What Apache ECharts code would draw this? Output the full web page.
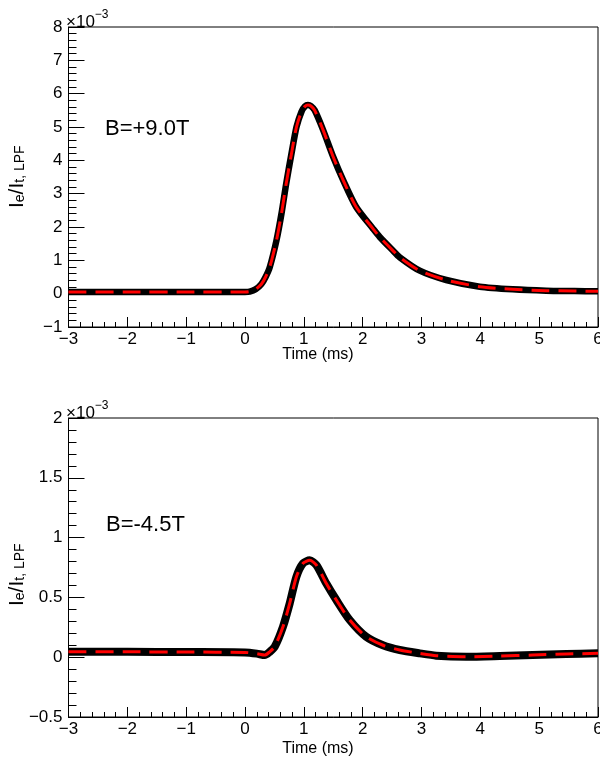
<!DOCTYPE html>
<html><head><meta charset="utf-8">
<script src="https://cdn.jsdelivr.net/npm/echarts@6/dist/echarts.min.js"></script>
<style>html,body{margin:0;padding:0;background:#fff}#c{width:600px;height:762px}</style>
</head><body><div id="c"></div>
<script>
const FONT = '"Liberation Sans", Arial, Helvetica, sans-serif';

// ---- Data (values in units of 1e-3) ----
const timeTop = [-3, -2, -1, 0, 0.08, 0.18, 0.28, 0.35, 0.42, 0.535, 0.62, 0.70, 0.79, 0.875, 0.96, 1.02, 1.07, 1.12, 1.185, 1.33, 1.5, 1.67, 1.89, 2.175, 2.29, 2.51, 2.63, 2.97, 3.42, 3.99, 4.55, 5.12, 5.6, 6];
const measTop = [0.05, 0.05, 0.05, 0.05, 0.06, 0.13, 0.29, 0.5, 0.79, 1.6, 2.4, 3.3, 4.2, 5.0, 5.46, 5.62, 5.66, 5.63, 5.5, 4.9, 4.1, 3.4, 2.6, 1.95, 1.7, 1.3, 1.09, 0.69, 0.41, 0.21, 0.13, 0.09, 0.08, 0.07];
const fitTop  = [0.05, 0.05, 0.05, 0.05, 0.06, 0.13, 0.29, 0.5, 0.79, 1.6, 2.4, 3.3, 4.2, 5.0, 5.46, 5.62, 5.66, 5.63, 5.5, 4.9, 4.1, 3.4, 2.6, 1.95, 1.7, 1.3, 1.09, 0.69, 0.41, 0.21, 0.13, 0.09, 0.08, 0.07];

const timeBottom = [-3, -2, -1, 0, 0.2, 0.336, 0.42, 0.506, 0.647, 0.76, 0.874, 0.987, 1.10, 1.214, 1.38, 1.553, 1.78, 2.06, 2.345, 2.63, 2.97, 3.25, 3.76, 4.33, 4.89, 5.46, 6];
const measBottom = [0.045, 0.045, 0.043, 0.04, 0.03, 0.018, 0.045, 0.088, 0.257, 0.45, 0.673, 0.785, 0.81, 0.77, 0.618, 0.478, 0.311, 0.171, 0.10, 0.06, 0.032, 0.013, 0.004, 0.01, 0.018, 0.027, 0.032];
const fitBottom  = [0.045, 0.045, 0.043, 0.04, 0.03, 0.018, 0.045, 0.088, 0.257, 0.45, 0.673, 0.785, 0.81, 0.77, 0.618, 0.478, 0.311, 0.171, 0.10, 0.06, 0.032, 0.013, 0.004, 0.01, 0.018, 0.027, 0.032];

const xRange = [-3, 6];
const yRangeTop = [-1, 8];
const yRangeBottom = [-0.5, 2];
const xTitle = 'Time (ms)';
const labelTop = 'B=+9.0T';
const labelBottom = 'B=-4.5T';

const pair = (t, v) => t.map((x, i) => [x, v[i]]);
const minusFmt = v => String(v).replace('-', '\u2212');

function xAxis(gi) {
  return {
    type: 'value', gridIndex: gi, min: xRange[0], max: xRange[1], interval: 1,
    axisLine: { show: true, onZero: false, lineStyle: { color: '#000', width: 1 } },
    axisTick: { show: true, inside: true, length: 10, lineStyle: { color: '#000', width: 1 } },
    minorTick: { show: true, splitNumber: 5, length: 5, lineStyle: { color: '#000', width: 1 } },
    splitLine: { show: false }, minorSplitLine: { show: false },
    axisLabel: { fontSize: 17, color: '#000', fontFamily: FONT, margin: 4, showMinLabel: true, showMaxLabel: true, formatter: minusFmt }
  };
}
function yAxis(gi, rng, iv) {
  return {
    type: 'value', gridIndex: gi, min: rng[0], max: rng[1], interval: iv,
    axisLine: { show: true, onZero: false, lineStyle: { color: '#000', width: 1 } },
    axisTick: { show: true, inside: true, length: 16, lineStyle: { color: '#000', width: 1 } },
    minorTick: { show: true, splitNumber: 5, length: 8, lineStyle: { color: '#000', width: 1 } },
    splitLine: { show: false }, minorSplitLine: { show: false },
    axisLabel: { fontSize: 17, color: '#000', fontFamily: FONT, margin: 6, showMinLabel: true, showMaxLabel: true, formatter: minusFmt }
  };
}
function lineSeries(gi, data, color, width, dashed) {
  return {
    type: 'line', xAxisIndex: gi, yAxisIndex: gi, data: data,
    showSymbol: false, smooth: 0.25, animation: false,
    lineStyle: { color: color, width: width, type: dashed ? [18, 9] : 'solid', cap: 'butt', join: 'round' },
    z: dashed ? 3 : 2
  };
}
function sciLabel(x, y) {
  return {
    type: 'text', left: x, top: y,
    style: {
      text: '{a|\u00d710}{b|\u22123}', fill: '#000',
      rich: {
        a: { fontSize: 17, fontFamily: FONT, fill: '#000', verticalAlign: 'bottom', lineHeight: 22 },
        b: { fontSize: 12, fontFamily: FONT, fill: '#000', verticalAlign: 'top', lineHeight: 12 }
      }
    }
  };
}
function yTitle(x, y) {
  return {
    type: 'text', x: x, y: y, rotation: Math.PI / 2,
    style: {
      text: '{m|I}{s|e}{m|/I}{s|t, LPF}', fill: '#000', align: 'left', verticalAlign: 'middle',
      rich: {
        m: { fontSize: 21, lineHeight: 21, verticalAlign: 'top', fontFamily: FONT, fill: '#000' },
        s: { fontSize: 14, lineHeight: 14, verticalAlign: 'bottom', padding: [13, 0, 0, 0], fontFamily: FONT, fill: '#000' }
      }
    }
  };
}
function txt(x, y, s, size, align) {
  return { type: 'text', x: x, y: y, style: { text: s, fontSize: size, fontFamily: FONT, fill: '#000', align: align || 'left', verticalAlign: 'middle' } };
}

const chart = echarts.init(document.getElementById('c'), null, { renderer: 'canvas' });
chart.setOption({
  backgroundColor: '#fff',
  animation: false,
  grid: [
    { left: 68.5, top: 27, width: 529.5, height: 300, show: true, borderColor: '#000', borderWidth: 1, backgroundColor: 'transparent', containLabel: false, outerBoundsMode: 'none' },
    { left: 68.5, top: 418, width: 529.5, height: 299, show: true, borderColor: '#000', borderWidth: 1, backgroundColor: 'transparent', containLabel: false, outerBoundsMode: 'none' }
  ],
  xAxis: [xAxis(0), xAxis(1)],
  yAxis: [yAxis(0, yRangeTop, 1), yAxis(1, yRangeBottom, 0.5)],
  series: [
    lineSeries(0, pair(timeTop, measTop), '#000', 6.5, false),
    lineSeries(0, pair(timeTop, fitTop), '#ff0000', 3, true),
    lineSeries(1, pair(timeBottom, measBottom), '#000', 8, false),
    lineSeries(1, pair(timeBottom, fitBottom), '#ff0000', 3, true)
  ],
  graphic: [
    sciLabel(66, 9),
    sciLabel(66, 400),
    yTitle(17, 208),
    yTitle(17, 606),
    txt(318, 355, xTitle, 16, 'center'),
    txt(318, 749, xTitle, 16, 'center'),
    txt(105, 129, labelTop, 22),
    txt(106, 525, labelBottom, 22)
  ]
});
</script>
</body></html>
